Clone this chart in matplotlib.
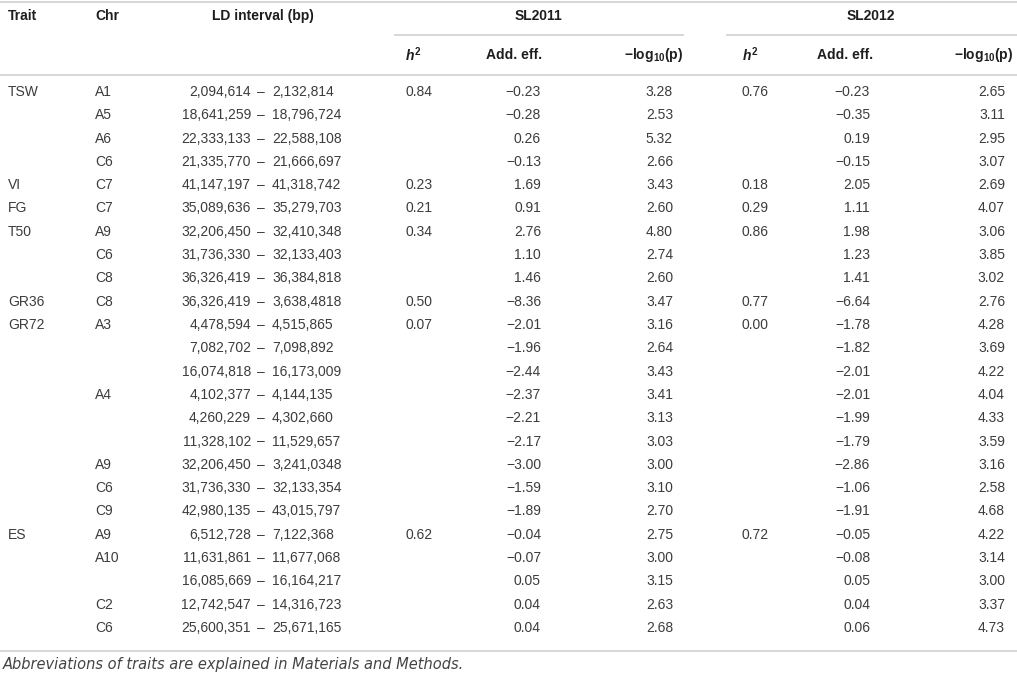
import matplotlib
matplotlib.use("Agg")
import matplotlib.pyplot as plt

plt.rcParams['font.family'] = ['Liberation Sans', 'DejaVu Sans']
plt.rcParams['mathtext.fontset'] = 'custom'
plt.rcParams['mathtext.rm'] = 'Liberation Sans:bold'
plt.rcParams['mathtext.it'] = 'Liberation Sans:italic:bold'
plt.rcParams['mathtext.bf'] = 'Liberation Sans:bold'

# table data
traits = ['TSW', '', '', '', 'VI', 'FG', 'T50', '', '', 'GR36', 'GR72', '', '', '', '', '', '', '', '',
          'ES', '', '', '', '']
chrs = ['A1', 'A5', 'A6', 'C6', 'C7', 'C7', 'A9', 'C6', 'C8', 'C8', 'A3', '', '', 'A4', '', '',
        'A9', 'C6', 'C9', 'A9', 'A10', '', 'C2', 'C6']
ld_start = ['2,094,614', '18,641,259', '22,333,133', '21,335,770', '41,147,197', '35,089,636',
            '32,206,450', '31,736,330', '36,326,419', '36,326,419', '4,478,594', '7,082,702',
            '16,074,818', '4,102,377', '4,260,229', '11,328,102', '32,206,450', '31,736,330',
            '42,980,135', '6,512,728', '11,631,861', '16,085,669', '12,742,547', '25,600,351']
ld_end = ['2,132,814', '18,796,724', '22,588,108', '21,666,697', '41,318,742', '35,279,703',
          '32,410,348', '32,133,403', '36,384,818', '3,638,4818', '4,515,865', '7,098,892',
          '16,173,009', '4,144,135', '4,302,660', '11,529,657', '3,241,0348', '32,133,354',
          '43,015,797', '7,122,368', '11,677,068', '16,164,217', '14,316,723', '25,671,165']
h2_2011 = [0.84, None, None, None, 0.23, 0.21, 0.34, None, None, 0.50, 0.07, None, None, None,
           None, None, None, None, None, 0.62, None, None, None, None]
add_2011 = [-0.23, -0.28, 0.26, -0.13, 1.69, 0.91, 2.76, 1.10, 1.46, -8.36, -2.01, -1.96, -2.44,
            -2.37, -2.21, -2.17, -3.00, -1.59, -1.89, -0.04, -0.07, 0.05, 0.04, 0.04]
logp_2011 = [3.28, 2.53, 5.32, 2.66, 3.43, 2.60, 4.80, 2.74, 2.60, 3.47, 3.16, 2.64, 3.43, 3.41,
             3.13, 3.03, 3.00, 3.10, 2.70, 2.75, 3.00, 3.15, 2.63, 2.68]
h2_2012 = [0.76, None, None, None, 0.18, 0.29, 0.86, None, None, 0.77, 0.00, None, None, None,
           None, None, None, None, None, 0.72, None, None, None, None]
add_2012 = [-0.23, -0.35, 0.19, -0.15, 2.05, 1.11, 1.98, 1.23, 1.41, -6.64, -1.78, -1.82, -2.01,
            -2.01, -1.99, -1.79, -2.86, -1.06, -1.91, -0.05, -0.08, 0.05, 0.04, 0.06]
logp_2012 = [2.65, 3.11, 2.95, 3.07, 2.69, 4.07, 3.06, 3.85, 3.02, 2.76, 4.28, 3.69, 4.22, 4.04,
             4.33, 3.59, 3.16, 2.58, 4.68, 4.22, 3.14, 3.00, 3.37, 4.73]
footnote = 'Abbreviations of traits are explained in Materials and Methods.'


def fmt(v):
    if v is None:
        return ''
    return f'{v:.2f}'.replace('-', '\u2212')


W, H = 1017, 675
fig = plt.figure(figsize=(W / 100, H / 100), dpi=100)
ax = fig.add_axes([0, 0, 1, 1])
ax.set_xlim(0, W)
ax.set_ylim(H, 0)
ax.axis('off')

txt_col = '#3c3c3c'
head_col = '#1e1e1e'
line_col = '#cfcfcf'
fs = 10

# rules
ax.plot([0, W], [2, 2], color=line_col, lw=1.2)
ax.plot([395, 683], [35, 35], color=line_col, lw=1.2)
ax.plot([727, W], [35, 35], color=line_col, lw=1.2)
ax.plot([0, W], [75, 75], color=line_col, lw=1.2)
ax.plot([0, W], [651, 651], color=line_col, lw=1.2)

# headers
hk = dict(fontsize=fs, fontweight='bold', color=head_col, va='center')
y1, y2 = 16, 55
ax.text(8, y1, 'Trait', ha='left', **hk)
ax.text(95, y1, 'Chr', ha='left', **hk)
ax.text(263, y1, 'LD interval (bp)', ha='center', **hk)
ax.text(538, y1, 'SL2011', ha='center', **hk)
ax.text(871, y1, 'SL2012', ha='center', **hk)
for xh, xa, xl in [(405, 514, 683), (742, 845, 1013)]:
    ax.text(xh, y2, '$h^2$', ha='left', **hk)
    ax.text(xa, y2, 'Add. eff.', ha='center', **hk)
    ax.text(xl, y2, '\u2212log$_{10}$(p)', ha='right', **hk)

# body
y0, dy = 92, 23.3
dk = dict(fontsize=fs, color=txt_col, va='center')
for i in range(len(chrs)):
    y = y0 + i * dy
    ax.text(8, y, traits[i], ha='left', **dk)
    ax.text(95, y, chrs[i], ha='left', **dk)
    ax.text(251, y, ld_start[i], ha='right', **dk)
    ax.text(261, y, '\u2013', ha='center', **dk)
    ax.text(272, y, ld_end[i], ha='left', **dk)
    ax.text(405, y, fmt(h2_2011[i]), ha='left', **dk)
    ax.text(541, y, fmt(add_2011[i]), ha='right', **dk)
    ax.text(673, y, fmt(logp_2011[i]), ha='right', **dk)
    ax.text(742, y, fmt(h2_2012[i]), ha='left', **dk)
    ax.text(870, y, fmt(add_2012[i]), ha='right', **dk)
    ax.text(1005, y, fmt(logp_2012[i]), ha='right', **dk)

ax.text(3, 665, footnote, ha='left', va='center', fontsize=10.5, style='italic',
        family='DejaVu Sans', color='#444444')

fig.savefig('out.png', dpi=100)
